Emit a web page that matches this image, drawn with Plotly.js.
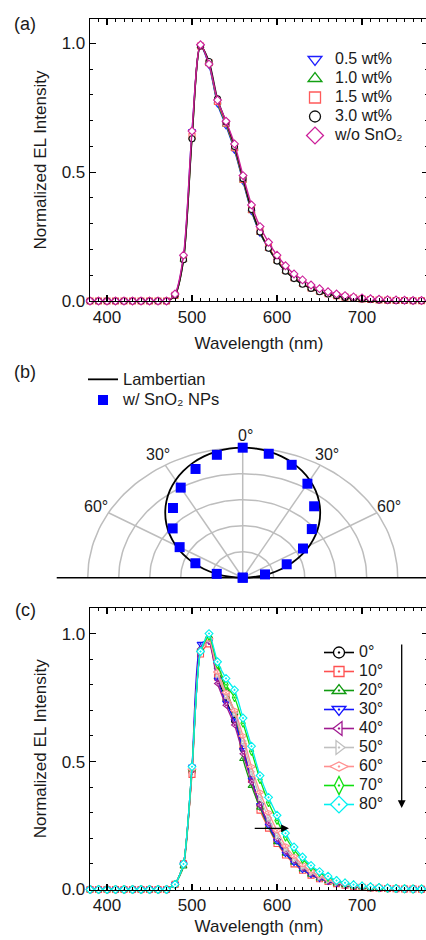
<!DOCTYPE html>
<html><head><meta charset="utf-8">
<script src="https://cdn.plot.ly/plotly-3.0.1.min.js"></script>
<style>html,body{margin:0;padding:0;overflow:hidden;background:#fff}#chart{width:428px;height:940px}</style>
</head><body><div id="chart"></div>
<script>
// ---------- shared x values (nm) ----------
const wavelength = [380,390,400,410,420,430,440,450,460,470,480,490,500,510,520,530,540,550,560,570,580,590,600,610,620,630,640,650,660,670,680,690,700,710,720,730,740,750,760,770,780];

// ---------- panel (a): EL spectra vs SnO2 content ----------
const elA_05 = [0,0,0,0,0,0,0,0,0,0,0.025,0.170,0.660,0.990,0.915,0.765,0.680,0.585,0.464,0.347,0.263,0.205,0.157,0.118,0.090,0.068,0.051,0.038,0.028,0.021,0.015,0.011,0.008,0.006,0.004,0.003,0.002,0.002,0.001,0.001,0.001];
const elA_10 = [0,0,0,0,0,0,0,0,0,0,0.022,0.160,0.635,0.990,0.920,0.770,0.685,0.590,0.468,0.350,0.265,0.203,0.155,0.116,0.087,0.065,0.049,0.036,0.027,0.020,0.014,0.010,0.008,0.006,0.004,0.003,0.002,0.002,0.001,0.001,0.001];
const elA_15 = [0,0,0,0,0,0,0,0,0,0,0.022,0.165,0.640,0.990,0.925,0.775,0.690,0.595,0.472,0.355,0.270,0.208,0.160,0.120,0.090,0.068,0.051,0.038,0.028,0.021,0.015,0.011,0.008,0.006,0.004,0.003,0.002,0.002,0.001,0.001,0.001];
const elA_30 = [0,0,0,0,0,0,0,0,0,0,0.022,0.160,0.630,0.990,0.930,0.785,0.695,0.600,0.475,0.355,0.268,0.205,0.155,0.116,0.087,0.065,0.049,0.036,0.027,0.020,0.014,0.010,0.008,0.006,0.004,0.003,0.002,0.002,0.001,0.001,0.001];
const elA_wo = [0,0,0,0,0,0,0,0,0,0,0.027,0.178,0.660,0.995,0.920,0.780,0.698,0.610,0.487,0.373,0.289,0.228,0.178,0.137,0.105,0.082,0.062,0.048,0.036,0.027,0.021,0.016,0.012,0.009,0.007,0.005,0.004,0.003,0.002,0.002,0.001];
const labelsA = ['0.5 wt%','1.0 wt%','1.5 wt%','3.0 wt%','w/o SnO₂'];

// ---------- panel (b): angular emission ----------
const angleDeg = [-90,-80,-70,-60,-50,-40,-30,-20,-10,0,10,20,30,40,50,60,70,80,90];
const intensityB = [0,0.170,0.325,0.470,0.590,0.700,0.800,0.890,0.960,1.000,0.968,0.924,0.835,0.717,0.582,0.449,0.302,0.146,0];
const lambAngle = [-90,-85,-80,-75,-70,-65,-60,-55,-50,-45,-40,-35,-30,-25,-20,-15,-10,-5,0,5,10,15,20,25,30,35,40,45,50,55,60,65,70,75,80,85,90];
const lambIntensity = [0,0.087,0.174,0.259,0.342,0.423,0.500,0.574,0.643,0.707,0.766,0.819,0.866,0.906,0.940,0.966,0.985,0.996,1.000,0.996,0.985,0.966,0.940,0.906,0.866,0.819,0.766,0.707,0.643,0.574,0.500,0.423,0.342,0.259,0.174,0.087,0];
const ringRadii = [0.2,0.4,0.6,0.8,1.0];
const spokeAngles = [-60,-30,0,30,60];
const labelsB = ['Lambertian','w/ SnO₂ NPs'];

// ---------- panel (c): EL spectra vs viewing angle ----------
const elC_0  = [0,0,0,0,0,0,0,0,0,0,0.020,0.100,0.460,0.930,0.980,0.830,0.740,0.660,0.550,0.430,0.330,0.250,0.190,0.145,0.110,0.083,0.062,0.046,0.034,0.025,0.018,0.013,0.009,0.007,0.005,0.004,0.003,0.002,0.002,0.001,0.001];
const elC_10 = [0,0,0,0,0,0,0,0,0,0,0.020,0.100,0.450,0.920,0.960,0.830,0.760,0.690,0.560,0.430,0.310,0.240,0.180,0.135,0.100,0.075,0.056,0.042,0.031,0.023,0.017,0.012,0.009,0.006,0.005,0.004,0.003,0.002,0.002,0.001,0.001];
const elC_20 = [0,0,0,0,0,0,0,0,0,0,0.020,0.090,0.470,0.940,0.990,0.870,0.780,0.690,0.510,0.405,0.320,0.245,0.185,0.140,0.105,0.078,0.058,0.043,0.032,0.023,0.017,0.012,0.009,0.006,0.005,0.004,0.003,0.002,0.002,0.001,0.001];
const elC_30 = [0,0,0,0,0,0,0,0,0,0,0.020,0.100,0.480,0.960,0.970,0.820,0.730,0.660,0.545,0.430,0.330,0.250,0.190,0.140,0.105,0.078,0.058,0.043,0.032,0.023,0.017,0.012,0.009,0.006,0.005,0.004,0.003,0.002,0.002,0.001,0.001];
const elC_40 = [0,0,0,0,0,0,0,0,0,0,0.020,0.100,0.470,0.940,0.970,0.805,0.720,0.643,0.530,0.420,0.330,0.260,0.200,0.150,0.115,0.086,0.064,0.048,0.035,0.025,0.018,0.013,0.009,0.007,0.005,0.004,0.003,0.002,0.002,0.001,0.001];
const elC_50 = [0,0,0,0,0,0,0,0,0,0,0.020,0.100,0.470,0.930,0.980,0.840,0.760,0.690,0.580,0.460,0.360,0.280,0.210,0.160,0.120,0.090,0.067,0.050,0.037,0.027,0.020,0.014,0.010,0.007,0.005,0.004,0.003,0.002,0.002,0.001,0.001];
const elC_60 = [0,0,0,0,0,0,0,0,0,0,0.020,0.100,0.470,0.930,0.980,0.850,0.770,0.700,0.600,0.480,0.380,0.300,0.230,0.170,0.130,0.097,0.072,0.054,0.040,0.029,0.021,0.015,0.011,0.008,0.006,0.004,0.003,0.002,0.002,0.001,0.001];
const elC_70 = [0,0,0,0,0,0,0,0,0,0,0.020,0.100,0.480,0.930,0.990,0.880,0.800,0.750,0.650,0.540,0.430,0.340,0.270,0.205,0.155,0.118,0.088,0.066,0.048,0.034,0.025,0.018,0.013,0.010,0.007,0.005,0.004,0.003,0.002,0.002,0.001];
const elC_80 = [0,0,0,0,0,0,0,0,0,0,0.020,0.100,0.480,0.930,1.000,0.890,0.825,0.780,0.670,0.560,0.445,0.360,0.290,0.220,0.166,0.127,0.094,0.070,0.052,0.035,0.026,0.019,0.014,0.011,0.008,0.006,0.004,0.003,0.002,0.002,0.001];
const labelsC = ['0°','10°','20°','30°','40°','50°','60°','70°','80°'];

// ---------- styling ----------
const FONT = 'Liberation Sans, Arial, Helvetica, sans-serif';
const TXT = '#1a1a1a';
const W = 428, H = 940;
const px = v => v / W;          // paper x from pixel
const py = v => 1 - v / H;      // paper y from pixel

const stylesA = [
  {color:'#1f1fff', symbol:'triangle-down', lsize:12},
  {color:'#12a012', symbol:'triangle-up',   lsize:12},
  {color:'#ff5a5a', symbol:'square',        lsize:11},
  {color:'#111111', symbol:'circle',        lsize:11},
  {color:'#cc1f99', symbol:'diamond',       lsize:13}
];
const seriesA = [elA_05, elA_10, elA_15, elA_30, elA_wo];

const stylesC = [
  {color:'#000000', symbol:'circle-dot',         lsize:11},
  {color:'#ff5050', symbol:'square-dot',         lsize:10},
  {color:'#109a10', symbol:'triangle-up-dot',    lsize:12},
  {color:'#1414ff', symbol:'triangle-down-dot',  lsize:12},
  {color:'#a01a90', symbol:'triangle-left-dot',  lsize:12},
  {color:'#c0c0c0', symbol:'triangle-right-dot', lsize:12},
  {color:'#ff9090', symbol:'diamond-wide-dot',   lsize:13},
  {color:'#10e010', symbol:'diamond-tall-dot',   lsize:13},
  {color:'#00f0f0', symbol:'diamond-dot',        lsize:13}
];
const seriesC = [elC_0, elC_10, elC_20, elC_30, elC_40, elC_50, elC_60, elC_70, elC_80];

const big = (t, s) => '<span style="font-size:' + (s || 16) + 'px">' + t + '</span>';
const traces = [];

// panel (a) data
seriesA.forEach((y, i) => {
  const s = stylesA[i];
  traces.push({
    x: wavelength, y: y, xaxis:'x', yaxis:'y', mode:'lines+markers', showlegend:false, cliponaxis:false,
    line:{color:s.color, width:1.4, shape:'spline', smoothing:0.8},
    marker:{symbol:s.symbol, size:6, color:'#fff', line:{color:s.color, width:1.1}},
    hoverinfo:'x+y'
  });
});
// panel (a) legend entries
seriesA.forEach((y, i) => {
  const s = stylesA[i];
  traces.push({
    x:[null], y:[null], xaxis:'x', yaxis:'y', mode:'markers', legend:'legend', name: big(labelsA[i]),
    marker:{symbol:s.symbol, size:s.lsize, color:'#fff', line:{color:s.color, width:1.3}}
  });
});

// panel (b) grid (polar-like, drawn on cartesian axes)
const deg = Math.PI / 180;
ringRadii.forEach(r => {
  const xs = [], ys = [];
  for (let a = -90; a <= 90; a += 2) { xs.push(r * Math.sin(a*deg)); ys.push(r * Math.cos(a*deg)); }
  traces.push({x:xs, y:ys, xaxis:'x2', yaxis:'y2', mode:'lines', showlegend:false, hoverinfo:'skip',
    line:{color:'#bdbdbd', width:1.5}});
});
spokeAngles.forEach(a => {
  traces.push({x:[0, Math.sin(a*deg)], y:[0, Math.cos(a*deg)], xaxis:'x2', yaxis:'y2', mode:'lines',
    showlegend:false, hoverinfo:'skip', line:{color:'#bdbdbd', width:1.5}});
});
traces.push({x:[-1.2, 1.3], y:[0, 0], xaxis:'x2', yaxis:'y2', mode:'lines', showlegend:false, hoverinfo:'skip',
  line:{color:'#000', width:1.4}, cliponaxis:false});
traces.push({
  x: lambAngle.map((a, i) => lambIntensity[i] * Math.sin(a*deg)),
  y: lambAngle.map((a, i) => lambIntensity[i] * Math.cos(a*deg)),
  xaxis:'x2', yaxis:'y2', mode:'lines', name: big(labelsB[0], 16.5), legend:'legend2',
  line:{color:'#000', width:1.8, shape:'spline', smoothing:1}
});
traces.push({
  x: angleDeg.map((a, i) => intensityB[i] * Math.sin(a*deg)),
  y: angleDeg.map((a, i) => intensityB[i] * Math.cos(a*deg)),
  xaxis:'x2', yaxis:'y2', mode:'markers', name: big(labelsB[1], 16.5), legend:'legend2', cliponaxis:false,
  marker:{symbol:'square', size:10, color:'#0000ff', line:{width:0}}
});

// panel (c) data
seriesC.forEach((y, i) => {
  const s = stylesC[i];
  traces.push({
    x: wavelength, y: y, xaxis:'x3', yaxis:'y3', mode:'lines+markers', showlegend:false, cliponaxis:false,
    line:{color:s.color, width:1.3, shape:'spline', smoothing:0.6},
    marker:{symbol:s.symbol, size:6, color:'#fff', line:{color:s.color, width:1.1}},
    hoverinfo:'x+y'
  });
});
seriesC.forEach((y, i) => {
  const s = stylesC[i];
  traces.push({
    x:[null], y:[null], xaxis:'x3', yaxis:'y3', mode:'lines+markers', legend:'legend3', name: big(labelsC[i]),
    line:{color:s.color, width:1.6},
    marker:{symbol:s.symbol, size:s.lsize, color:'#fff', line:{color:s.color, width:1.3}}
  });
});

// ---------- axes ----------
function specAxisX(domain, anchor, standoff) {
  return {
    domain: domain, anchor: anchor, range:[380, 777.6], tick0:0, dtick:100,
    ticks:'inside', ticklen:6, tickwidth:1.2, tickcolor:'#000',
    minor:{dtick:10, ticks:'inside', ticklen:3, tickwidth:1, tickcolor:'#000'},
    showline:true, linecolor:'#000', linewidth:1.3, mirror:'ticks',
    showgrid:false, zeroline:false,
    tickfont:{family:FONT, size:17, color:TXT},
    title:{text:'Wavelength (nm)', font:{family:FONT, size:17, color:TXT}, standoff:standoff},
    automargin:false
  };
}
function specAxisY(domain, anchor, top) {
  return {
    domain: domain, anchor: anchor, range:[0, top], tick0:0, dtick:0.5, tickformat:'.1f',
    ticks:'inside', ticklen:6, tickwidth:1.2, tickcolor:'#000',
    minor:{dtick:0.1, ticks:'inside', ticklen:3, tickwidth:1, tickcolor:'#000'},
    showline:true, linecolor:'#000', linewidth:1.3, mirror:'ticks',
    showgrid:false, zeroline:false,
    tickfont:{family:FONT, size:17, color:TXT},
    title:{text:'Normalized EL Intensity', font:{family:FONT, size:17, color:TXT}, standoff:10},
    automargin:false
  };
}

const legendBase = {xanchor:'left', yanchor:'top', bgcolor:'rgba(0,0,0,0)', borderwidth:0,
  itemclick:false, itemdoubleclick:false, traceorder:'normal'};

const layout = {
  width: W, height: H,
  margin:{l:0, r:0, t:0, b:0},
  paper_bgcolor:'#fff', plot_bgcolor:'rgba(0,0,0,0)',
  font:{family:FONT, color:TXT},
  showlegend:true,
  xaxis: specAxisX([px(90), 1], 'y', 11),
  yaxis: specAxisY([py(301), py(19)], 'x', 1.095),
  xaxis2: {domain:[0, 1], anchor:'y2', range:[-1.566, 1.1955], visible:false, fixedrange:true},
  yaxis2: {domain:[py(590), py(420)], anchor:'x2', range:[-0.0946, 1.213], visible:false, fixedrange:true},
  xaxis3: specAxisX([px(90), 1], 'y3', 6),
  yaxis3: specAxisY([py(889.5), py(608)], 'x3', 1.1),
  legend:  Object.assign({}, legendBase, {x:px(295), y:py(45), font:{family:FONT, size:11.5, color:TXT}}),
  legend2: Object.assign({}, legendBase, {x:px(83), y:py(364), font:{family:FONT, size:13.6, color:TXT}}),
  legend3: Object.assign({}, legendBase, {x:px(319), y:py(638), font:{family:FONT, size:11.7, color:TXT}}),
  annotations: []
};

// panel labels
[['(a)', 24], ['(b)', 371.5], ['(c)', 610]].forEach(([t, yy]) => {
  layout.annotations.push({text:t, xref:'paper', yref:'paper', x:px(25), y:py(yy), xanchor:'center', yanchor:'middle',
    showarrow:false, font:{family:FONT, size:18, color:TXT}});
});
// angle labels for panel (b)
spokeAngles.forEach(a => {
  const r = 1.09;
  layout.annotations.push({text: Math.abs(a) + '°', xref:'x2', yref:'y2',
    x: r * Math.sin(a*deg) + (a === 0 ? 0.02 : 0), y: r * Math.cos(a*deg),
    xanchor:'center', yanchor:'middle', showarrow:false, font:{family:FONT, size:16, color:TXT}});
});
// guide arrows in panel (c)
layout.annotations.push({text:'', xref:'paper', yref:'paper', x:px(401.7), y:py(808), ax:0, ay:-165,
  showarrow:true, arrowhead:2, arrowsize:1.2, arrowwidth:1.3, arrowcolor:'#000', standoff:0, startstandoff:0});
layout.annotations.push({text:'', xref:'x3', yref:'y3', x:614, y:0.239, axref:'x3', ayref:'y3', ax:572, ay:0.239,
  showarrow:true, arrowhead:2, arrowsize:1.2, arrowwidth:1.3, arrowcolor:'#000', standoff:0, startstandoff:0});

Plotly.newPlot('chart', traces, layout, {displayModeBar:false, staticPlot:true});
</script></body></html>
